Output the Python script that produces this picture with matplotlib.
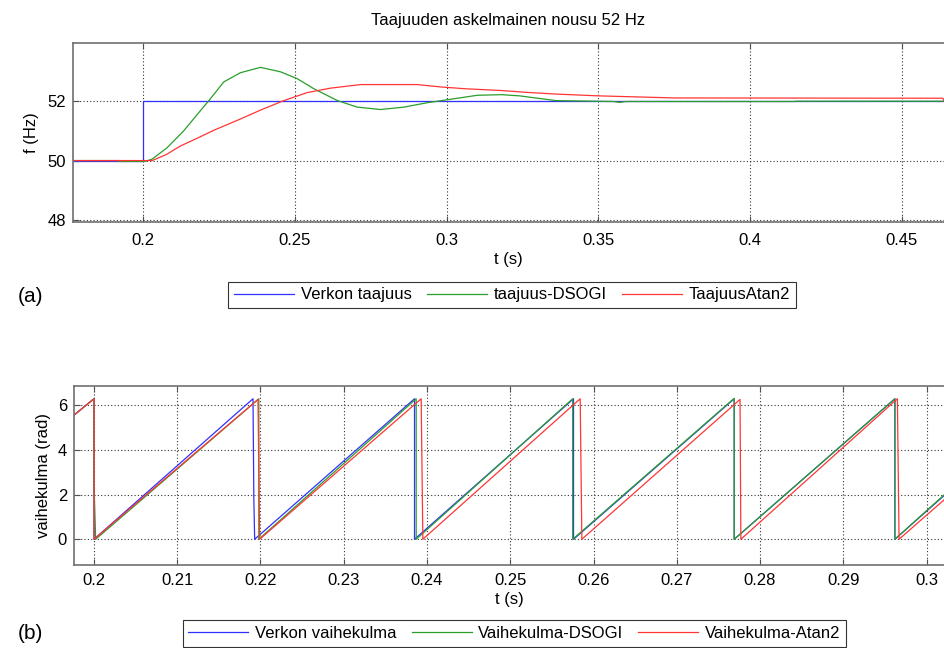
import matplotlib
matplotlib.use('Agg')
import matplotlib.pyplot as plt

plt.rcParams['font.family'] = ['Liberation Sans', 'DejaVu Sans']

# (a) taajuus
t_verkko = [0.1768, 0.2, 0.2, 0.464]
f_verkko = [50.0, 50.0, 52.0, 52.0]

t_dsogi = [0.1768, 0.192, 0.192, 0.2005, 0.2029, 0.2078, 0.2133, 0.2188, 0.2216, 0.2265,
           0.232, 0.2386, 0.2452, 0.2507, 0.2562, 0.264, 0.2705, 0.2782, 0.2859, 0.2936,
           0.3002, 0.3101, 0.318, 0.324, 0.33, 0.336, 0.355, 0.357, 0.359, 0.415, 0.415, 0.464]
f_dsogi = [50.0, 50.0, 49.97, 49.97, 50.05, 50.43, 51.0, 51.68, 52.02, 52.65,
           52.96, 53.14, 52.99, 52.76, 52.42, 52.02, 51.8, 51.72, 51.8, 51.95,
           52.05, 52.2, 52.22, 52.18, 52.1, 52.02, 51.99, 51.96, 51.99, 51.99, 52.0, 52.0]

t_atan = [0.1768, 0.2029, 0.2075, 0.2122, 0.2177, 0.2232, 0.232, 0.2386, 0.2463, 0.254,
          0.2617, 0.2716, 0.2903, 0.298, 0.306, 0.318, 0.326, 0.336, 0.35, 0.375, 0.4635, 0.464]
f_atan = [50.0, 50.0, 50.2, 50.49, 50.75, 51.02, 51.4, 51.7, 52.02, 52.29,
          52.44, 52.56, 52.56, 52.48, 52.42, 52.36, 52.3, 52.24, 52.18, 52.11, 52.1, 52.0]

xt_a = [0.2, 0.25, 0.3, 0.35, 0.4, 0.45]
xl_a = ['0.2', '0.25', '0.3', '0.35', '0.4', '0.45']
yt_a = [48, 50, 52]

# (b) vaihekulma
t_vk = [0.1976, 0.2, 0.2, 0.2191, 0.2192, 0.2193, 0.2385, 0.2385, 0.2576, 0.2576,
        0.2769, 0.2769, 0.2962, 0.2962, 0.3021]
v_vk = [5.55, 6.28, 0, 6.28, 1.8, 0, 6.28, 0, 6.28, 0, 6.28, 0, 6.28, 0, 1.95]

t_ds = [0.1976, 0.2, 0.2, 0.2002, 0.2198, 0.2198, 0.2387, 0.2387, 0.2575, 0.2575,
        0.2769, 0.2769, 0.2962, 0.2962, 0.3021]
v_ds = [5.55, 6.28, 2.5, 0, 6.28, 0, 6.28, 0, 6.28, 0, 6.3, 0, 6.28, 0, 1.98]

t_at = [0.1976, 0.2, 0.2, 0.2197, 0.2199, 0.2393, 0.2395, 0.2584, 0.2586, 0.2776,
        0.2777, 0.2965, 0.2967, 0.3021]
v_at = [5.55, 6.28, 0, 6.25, 0, 6.28, 0, 6.28, 0, 6.25, 0, 6.28, 0, 1.76]

xt_b = [0.2, 0.21, 0.22, 0.23, 0.24, 0.25, 0.26, 0.27, 0.28, 0.29, 0.3]
xl_b = ['0.2', '0.21', '0.22', '0.23', '0.24', '0.25', '0.26', '0.27', '0.28', '0.29', '0.3']
yt_b = [0, 2, 4, 6]

sininen = '#3030ff'
vihrea = '#2a9e2a'
punainen = '#ff3535'
fs = 12


def tyyli(ax):
    ax.grid(True, color='#333333', linestyle=(0, (1, 2)), linewidth=0.8)
    for s in ['left', 'top', 'bottom']:
        ax.spines[s].set_color('#707070')
        ax.spines[s].set_linewidth(1.2)
    ax.spines['right'].set_visible(False)
    ax.tick_params(direction='in', length=4, color='#505050', top=True, labelsize=fs)
    ax.tick_params(axis='x', pad=8)
    ax.tick_params(axis='y', pad=5)


def selite(ax, x, y):
    leg = ax.legend(loc='center', bbox_to_anchor=(x, y), bbox_transform=fig.transFigure,
                    ncol=3, fontsize=fs, frameon=True, fancybox=False, edgecolor='black',
                    handlelength=3.6, handletextpad=0.4, columnspacing=0.9, borderpad=0.35,
                    borderaxespad=0)
    leg.get_frame().set_linewidth(0.8)


fig = plt.figure(figsize=(9.44, 6.48), dpi=100)

ax1 = fig.add_axes([0.0773, 0.6574, 0.9227, 0.2762])
ax1.plot(t_verkko, f_verkko, color=sininen, lw=0.9, label='Verkon taajuus')
ax1.plot(t_dsogi, f_dsogi, color=vihrea, lw=0.9, label='taajuus-DSOGI')
ax1.plot(t_atan, f_atan, color=punainen, lw=0.9, label='TaajuusAtan2')
ax1.set_xlim(0.1768, 0.4639)
ax1.set_ylim(47.93, 53.96)
ax1.set_xticks(xt_a)
ax1.set_xticklabels(xl_a)
ax1.set_yticks(yt_a)
tyyli(ax1)
ax1.set_xlabel('t (s)', fontsize=fs, labelpad=3)
ax1.set_ylabel('f (Hz)', fontsize=fs, labelpad=6)
ax1.set_title('Taajuuden askelmainen nousu 52 Hz', fontsize=fs, pad=13)
selite(ax1, 0.5424, 0.5448)

ax2 = fig.add_axes([0.0784, 0.1281, 0.9216, 0.2762])
ax2.plot(t_vk, v_vk, color=sininen, lw=0.9, label='Verkon vaihekulma')
ax2.plot(t_ds, v_ds, color=vihrea, lw=0.9, label='Vaihekulma-DSOGI')
ax2.plot(t_at, v_at, color=punainen, lw=0.9, label='Vaihekulma-Atan2')
ax2.set_xlim(0.1976, 0.3021)
ax2.set_ylim(-1.15, 6.85)
ax2.set_xticks(xt_b)
ax2.set_xticklabels(xl_b)
ax2.set_yticks(yt_b)
tyyli(ax2)
ax2.tick_params(axis='x', pad=6)
ax2.set_xlabel('t (s)', fontsize=fs, labelpad=3)
ax2.set_ylabel('vaihekulma (rad)', fontsize=fs, labelpad=5)
selite(ax2, 0.545, 0.022)

fig.text(0.019, 0.543, '(a)', fontsize=15, va='center')
fig.text(0.019, 0.022, '(b)', fontsize=15, va='center')

fig.savefig('out.png', dpi=100)
